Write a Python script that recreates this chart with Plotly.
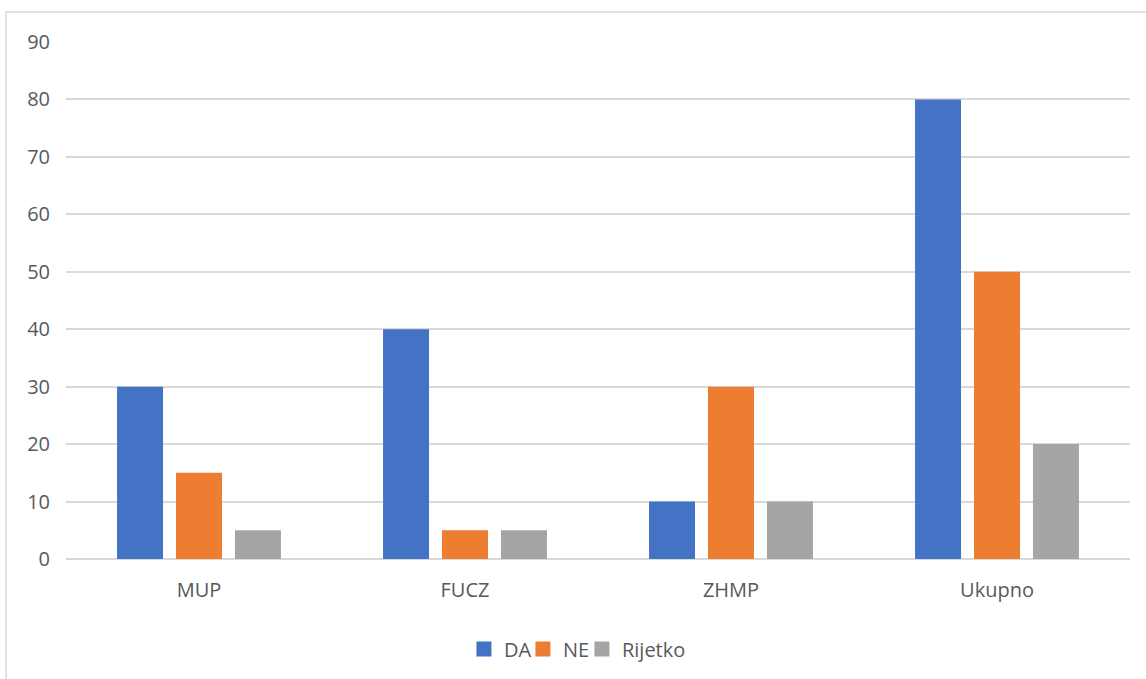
import plotly.graph_objects as go

categories = ["MUP", "FUCZ", "ZHMP", "Ukupno"]
series_names = ["DA", "NE", "Rijetko"]
da_values = [30, 40, 10, 80]
ne_values = [15, 5, 30, 50]
rijetko_values = [5, 5, 10, 20]
y_ticks = [0, 10, 20, 30, 40, 50, 60, 70, 80, 90]

colors = ["#4472C4", "#ED7D31", "#A5A5A5"]
text_color = "#595959"
grid_color = "#D9D9D9"

fig = go.Figure()
for name, vals, col in zip(series_names, [da_values, ne_values, rijetko_values], colors):
    fig.add_trace(go.Bar(x=categories, y=vals, name=name, marker_color=col,
                         marker_line_width=0, showlegend=False))

# square legend keys
for name, col in zip(series_names, colors):
    fig.add_trace(go.Scatter(x=[None], y=[None], mode="markers", name=name,
                             marker=dict(symbol="square", size=15, color=col)))
# blank spacer entry so the last label has room
fig.add_trace(go.Scatter(x=[None], y=[None], mode="markers", name=" ",
                         marker=dict(size=1, color="rgba(0,0,0,0)"), hoverinfo="skip"))

fig.update_layout(
    width=1146, height=679,
    margin=dict(l=66, r=16, t=42, b=119),
    paper_bgcolor="white", plot_bgcolor="white",
    font=dict(family="Open Sans", size=20, color=text_color),
    barmode="group", bargap=0.335, bargroupgap=0.22,
    showlegend=True,
    legend=dict(orientation="h", x=0.374, xanchor="left", y=-0.172, yanchor="middle",
                font=dict(size=20, color=text_color), itemsizing="trace",
                itemwidth=30, entrywidth=14, entrywidthmode="pixels", tracegroupgap=0),
    xaxis=dict(showgrid=False, showline=False, ticks="", ticklabelstandoff=17,
               zeroline=False),
    yaxis=dict(range=[0, 90], tickvals=y_ticks, showgrid=True, gridcolor=grid_color,
               gridwidth=1.5, zeroline=True, zerolinecolor=grid_color, zerolinewidth=1.5,
               showline=False, ticks="", ticklabelstandoff=15),
)

# chart frame
fig.add_shape(type="rect", xref="paper", yref="paper",
              x0=(6 - 66) / 1064, x1=(1150 - 66) / 1064,
              y0=(560 - 690) / 518, y1=(560 - 12) / 518,
              line=dict(color=grid_color, width=1.5), fillcolor="rgba(0,0,0,0)",
              layer="below")

fig.write_html("out.html")
